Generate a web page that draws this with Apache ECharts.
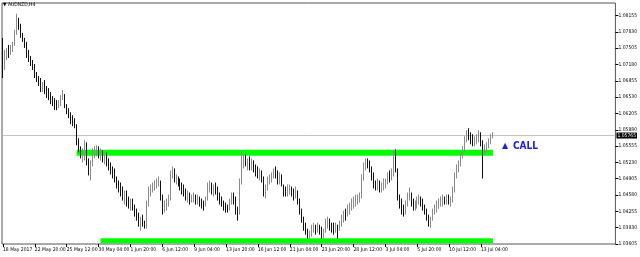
<!DOCTYPE html>
<html><head><meta charset="utf-8">
<script src="https://cdn.jsdelivr.net/npm/echarts@6/dist/echarts.min.js"></script>
<style>html,body{margin:0;padding:0;background:#fff}#c{width:640px;height:257px}</style>
</head><body><div id="c"></div><script>
const chartTitle = '\u25BC AUDNZD,H4';
const signalText = 'CALL';
const xTickLabels = ['18 May 2017','22 May 20:00','25 May 12:00','30 May 04:00','1 Jun 20:00','6 Jun 12:00','9 Jun 04:00','13 Jun 20:00','16 Jun 12:00','21 Jun 04:00','23 Jun 20:00','28 Jun 12:00','3 Jul 04:00','5 Jul 20:00','10 Jul 12:00','13 Jul 04:00'];
const yTickValues = [1.03605,1.03930,1.04255,1.04580,1.04905,1.05230,1.05555,1.05880,1.06205,1.06530,1.06855,1.07180,1.07505,1.07830,1.08155];
const priceMin = 1.03605, priceMax = 1.08404;
const barsPerTick = 16;
const slotCount = 308;

const closes = [
1.0707,1.0737,1.0747,1.0743,1.0751,1.0757,1.0781,1.0807,1.0793,1.0777,
1.0767,1.0757,1.0737,1.0731,1.0723,1.0715,1.0697,1.0691,1.0683,1.0671,
1.0675,1.0667,1.0657,1.0655,1.0647,1.0643,1.0637,1.0635,1.0639,1.0651,
1.0659,1.0635,1.0623,1.0619,1.0611,1.0607,1.0599,1.0567,1.0547,1.0539,
1.0543,1.0557,1.0523,1.0511,1.0517,1.0543,1.0547,1.0551,1.0537,1.0543,
1.0531,1.0535,1.0523,1.0515,1.0507,1.0503,1.0487,1.0479,1.0475,1.0467,
1.0455,1.0459,1.0447,1.0439,1.0443,1.0435,1.0423,1.0415,1.0403,1.0407,
1.0399,1.0395,1.0437,1.0467,1.0471,1.0475,1.0479,1.0483,1.0487,1.0451,
1.0431,1.0439,1.0443,1.0451,1.0497,1.0507,1.0491,1.0491,1.0483,1.0475,
1.0471,1.0463,1.0455,1.0457,1.0451,1.0453,1.0455,1.0447,1.0451,1.0443,
1.0439,1.0435,1.0451,1.0475,1.0475,1.0467,1.0471,1.0463,1.0455,1.0447,
1.0439,1.0435,1.0431,1.0427,1.0443,1.0455,1.0447,1.0431,1.0423,1.0483,
1.0527,1.0531,1.0519,1.0523,1.0515,1.0519,1.0511,1.0503,1.0499,1.0503,
1.0491,1.0463,1.0471,1.0487,1.0491,1.0495,1.0503,1.0499,1.0487,1.0495,
1.0479,1.0467,1.0463,1.0467,1.0471,1.0459,1.0455,1.0463,1.0447,1.0427,
1.0411,1.0395,1.0387,1.0379,1.0383,1.0391,1.0395,1.0387,1.0395,1.0391,
1.0379,1.0383,1.0403,1.0407,1.0395,1.0391,1.0387,1.0395,1.0391,1.0399,
1.0411,1.0419,1.0415,1.0427,1.0435,1.0439,1.0447,1.0451,1.0455,1.0459,
1.0491,1.0515,1.0523,1.0519,1.0511,1.0495,1.0479,1.0475,1.0483,1.0471,
1.0479,1.0483,1.0487,1.0495,1.0491,1.0503,1.0531,1.0507,1.0455,1.0439,
1.0427,1.0423,1.0439,1.0455,1.0459,1.0443,1.0435,1.0439,1.0447,1.0451,
1.0443,1.0435,1.0427,1.0415,1.0403,1.0411,1.0423,1.0431,1.0439,1.0443,
1.0447,1.0451,1.0447,1.0451,1.0443,1.0447,1.0467,1.0495,1.0511,1.0519,
1.0535,1.0547,1.0567,1.0579,1.0575,1.0567,1.0563,1.0567,1.0571,1.0575,
1.0559,1.0547,1.0551,1.0555,1.0567,1.0575,1.05765];

const opens = [
1.0767,1.0707,1.0737,1.0747,1.0743,1.0751,1.0757,1.0781,1.0807,1.0793,
1.0777,1.0767,1.0757,1.0737,1.0731,1.0723,1.0715,1.0697,1.0691,1.0683,
1.0671,1.0675,1.0667,1.0657,1.0655,1.0647,1.0643,1.0637,1.0635,1.0639,
1.0651,1.0659,1.0635,1.0623,1.0619,1.0611,1.0607,1.0599,1.0567,1.0547,
1.0539,1.0543,1.0557,1.0523,1.0511,1.0517,1.0543,1.0547,1.0551,1.0537,
1.0543,1.0531,1.0535,1.0523,1.0515,1.0507,1.0503,1.0487,1.0479,1.0475,
1.0467,1.0455,1.0459,1.0447,1.0439,1.0443,1.0435,1.0423,1.0415,1.0403,
1.0407,1.0399,1.0395,1.0437,1.0467,1.0471,1.0475,1.0479,1.0483,1.0487,
1.0451,1.0431,1.0439,1.0443,1.0451,1.0497,1.0507,1.0491,1.0491,1.0483,
1.0475,1.0471,1.0463,1.0455,1.0457,1.0451,1.0453,1.0455,1.0447,1.0451,
1.0443,1.0439,1.0435,1.0451,1.0475,1.0475,1.0467,1.0471,1.0463,1.0455,
1.0447,1.0439,1.0435,1.0431,1.0427,1.0443,1.0455,1.0447,1.0431,1.0423,
1.0483,1.0527,1.0531,1.0519,1.0523,1.0515,1.0519,1.0511,1.0503,1.0499,
1.0503,1.0491,1.0463,1.0471,1.0487,1.0491,1.0495,1.0503,1.0499,1.0487,
1.0495,1.0479,1.0467,1.0463,1.0467,1.0471,1.0459,1.0455,1.0463,1.0447,
1.0427,1.0411,1.0395,1.0387,1.0379,1.0383,1.0391,1.0395,1.0387,1.0395,
1.0391,1.0379,1.0383,1.0403,1.0407,1.0395,1.0391,1.0387,1.0395,1.0391,
1.0399,1.0411,1.0419,1.0415,1.0427,1.0435,1.0439,1.0447,1.0451,1.0455,
1.0459,1.0491,1.0515,1.0523,1.0519,1.0511,1.0495,1.0479,1.0475,1.0483,
1.0471,1.0479,1.0483,1.0487,1.0495,1.0491,1.0503,1.0531,1.0507,1.0455,
1.0439,1.0427,1.0423,1.0439,1.0455,1.0459,1.0443,1.0435,1.0439,1.0447,
1.0451,1.0443,1.0435,1.0427,1.0415,1.0403,1.0411,1.0423,1.0431,1.0439,
1.0443,1.0447,1.0451,1.0447,1.0451,1.0443,1.0447,1.0467,1.0495,1.0511,
1.0519,1.0535,1.0547,1.0567,1.0579,1.0575,1.0567,1.0563,1.0567,1.0571,
1.0575,1.0559,1.0547,1.0551,1.0555,1.0567,1.0575];

const highs = [
1.0771,1.0747,1.0751,1.0757,1.0757,1.0763,1.0787,1.0819,1.0811,1.0799,
1.0781,1.0771,1.0763,1.0747,1.0735,1.0727,1.0719,1.0703,1.0695,1.0691,
1.0683,1.0687,1.0675,1.0671,1.0663,1.0655,1.0651,1.0647,1.0647,1.0657,
1.0667,1.0659,1.0639,1.0631,1.0623,1.0617,1.0611,1.0599,1.0571,1.0555,
1.0551,1.0567,1.0563,1.0531,1.0527,1.0551,1.0555,1.0557,1.0555,1.0551,
1.0547,1.0539,1.0543,1.0531,1.0523,1.0515,1.0511,1.0495,1.0487,1.0483,
1.0475,1.0467,1.0467,1.0455,1.0451,1.0451,1.0439,1.0431,1.0423,1.0415,
1.0419,1.0407,1.0447,1.0475,1.0479,1.0483,1.0487,1.0491,1.0495,1.0487,
1.0459,1.0447,1.0451,1.0459,1.0507,1.0515,1.0511,1.0499,1.0495,1.0491,
1.0483,1.0479,1.0471,1.0467,1.0463,1.0459,1.0463,1.0459,1.0459,1.0455,
1.0451,1.0447,1.0455,1.0483,1.0487,1.0483,1.0479,1.0483,1.0475,1.0463,
1.0455,1.0447,1.0443,1.0439,1.0451,1.0463,1.0463,1.0455,1.0435,1.0491,
1.0547,1.0539,1.0539,1.0531,1.0535,1.0531,1.0527,1.0519,1.0515,1.0511,
1.0507,1.0495,1.0479,1.0495,1.0499,1.0503,1.0511,1.0515,1.0507,1.0503,
1.0499,1.0479,1.0475,1.0479,1.0479,1.0475,1.0471,1.0475,1.0467,1.0451,
1.0431,1.0415,1.0403,1.0391,1.0387,1.0399,1.0403,1.0399,1.0403,1.0399,
1.0395,1.0391,1.0411,1.0415,1.0411,1.0403,1.0403,1.0403,1.0399,1.0407,
1.0419,1.0427,1.0431,1.0439,1.0443,1.0451,1.0455,1.0459,1.0459,1.0463,
1.0499,1.0523,1.0531,1.0531,1.0527,1.0515,1.0503,1.0487,1.0491,1.0487,
1.0483,1.0491,1.0491,1.0503,1.0507,1.0511,1.0547,1.0549,1.0511,1.0459,
1.0451,1.0439,1.0447,1.0463,1.0473,1.0463,1.0451,1.0447,1.0455,1.0459,
1.0455,1.0451,1.0439,1.0431,1.0419,1.0415,1.0431,1.0439,1.0447,1.0451,
1.0455,1.0459,1.0455,1.0459,1.0459,1.0455,1.0475,1.0503,1.0519,1.0527,
1.0543,1.0555,1.0575,1.0587,1.0591,1.0583,1.0579,1.0575,1.0579,1.0587,
1.0583,1.0567,1.0559,1.0563,1.0571,1.0579,1.0583];

const lows = [
1.0691,1.0707,1.0727,1.0731,1.0737,1.0743,1.0755,1.0777,1.0787,1.0771,
1.0763,1.0751,1.0731,1.0723,1.0715,1.0707,1.0691,1.0683,1.0675,1.0663,
1.0663,1.0659,1.0651,1.0647,1.0639,1.0635,1.0627,1.0627,1.0631,1.0635,
1.0647,1.0631,1.0619,1.0611,1.0599,1.0595,1.0591,1.0557,1.0543,1.0531,
1.0523,1.0527,1.0517,1.0497,1.0487,1.0515,1.0531,1.0535,1.0531,1.0527,
1.0523,1.0519,1.0515,1.0507,1.0499,1.0491,1.0483,1.0471,1.0463,1.0455,
1.0447,1.0439,1.0435,1.0431,1.0427,1.0427,1.0415,1.0407,1.0395,1.0387,
1.0395,1.0391,1.0391,1.0435,1.0455,1.0463,1.0467,1.0471,1.0475,1.0447,
1.0419,1.0423,1.0427,1.0435,1.0447,1.0491,1.0483,1.0479,1.0475,1.0467,
1.0459,1.0455,1.0447,1.0443,1.0439,1.0443,1.0443,1.0439,1.0439,1.0435,
1.0431,1.0427,1.0435,1.0447,1.0463,1.0459,1.0455,1.0459,1.0447,1.0439,
1.0435,1.0427,1.0423,1.0423,1.0427,1.0439,1.0439,1.0419,1.0407,1.0419,
1.0479,1.0511,1.0515,1.0507,1.0507,1.0507,1.0503,1.0495,1.0491,1.0487,
1.0483,1.0455,1.0451,1.0467,1.0479,1.0483,1.0491,1.0491,1.0479,1.0479,
1.0475,1.0455,1.0455,1.0455,1.0459,1.0455,1.0447,1.0451,1.0439,1.0419,
1.0403,1.0387,1.0379,1.0371,1.0371,1.0375,1.0383,1.0379,1.0383,1.0379,
1.0371,1.0371,1.0383,1.0391,1.0387,1.0383,1.0379,1.0383,1.0371,1.0387,
1.0395,1.0403,1.0407,1.0415,1.0419,1.0427,1.0431,1.0435,1.0439,1.0443,
1.0451,1.0487,1.0507,1.0511,1.0503,1.0487,1.0471,1.0467,1.0467,1.0463,
1.0463,1.0467,1.0471,1.0479,1.0483,1.0487,1.0495,1.0503,1.0447,1.0431,
1.0419,1.0415,1.0419,1.0435,1.0447,1.0435,1.0427,1.0427,1.0431,1.0439,
1.0435,1.0427,1.0419,1.0407,1.0395,1.0393,1.0407,1.0419,1.0423,1.0431,
1.0435,1.0435,1.0439,1.0439,1.0439,1.0435,1.0443,1.0463,1.0491,1.0503,
1.0515,1.0531,1.0543,1.0563,1.0567,1.0559,1.0555,1.0555,1.0559,1.0563,
1.0555,1.0491,1.0539,1.0543,1.0551,1.0559,1.0571];

const levelPrices = [1.05421, 1.03669];
const levelStartBar = [37, 49];
const levelEndBar = [246, 246];
const currentPrice = 1.05765;

const FONT = "'Liberation Sans Narrow','DejaVu Sans Condensed','Liberation Sans',sans-serif";
const categories = Array.from({length: slotCount}, (_, i) => String(i));
const ohlc = closes.map((c, i) => [opens[i], c, lows[i], highs[i]]);
const lastTickIdx = (xTickLabels.length - 1) * barsPerTick;
const isTick = (i) => i % barsPerTick === 0 && i <= lastTickIdx;

const chart = echarts.init(document.getElementById('c'), null, {renderer: 'canvas'});
const levelSeries = levelPrices.map((p, k) => ({
  type: 'line', z: 1, silent: true, symbol: 'none', animation: false,
  data: [[levelStartBar[k], p], [levelEndBar[k], p]],
  lineStyle: {color: '#00ff00', width: k === 0 ? 6 : 5, cap: 'butt'}
}));
const priceLineSeries = {
  type: 'line', z: 0, silent: true, symbol: 'none', animation: false,
  data: [[0, currentPrice], [slotCount - 1, currentPrice]],
  lineStyle: {color: '#c4c4c4', width: 1, type: 'solid'},
  endLabel: {show: true, formatter: () => currentPrice.toFixed(5), color: '#fff', backgroundColor: '#000',
    fontSize: 5, padding: [1, 1, 0, 1], distance: 2, fontFamily: FONT}
};
chart.setOption({
  animation: false,
  backgroundColor: '#ffffff',
  textStyle: {fontFamily: FONT},
  grid: {left: 0, right: 24, top: 3, bottom: 13, show: true, borderColor: '#555', borderWidth: 1, backgroundColor: 'transparent'},
  xAxis: {
    type: 'category', data: categories, boundaryGap: true,
    axisLine: {show: false},
    axisTick: {show: true, alignWithLabel: true, interval: (i) => isTick(i), length: 3, lineStyle: {color: '#000'}},
    axisLabel: {interval: (i) => isTick(i), formatter: (v, i) => xTickLabels[i / barsPerTick] || '',
      align: 'left', fontSize: 5, color: '#000', margin: 3, fontFamily: FONT},
    splitLine: {show: false}
  },
  yAxis: {
    type: 'value', position: 'right', min: priceMin, max: priceMax, scale: true,
    axisLine: {show: false},
    axisTick: {show: true, length: 3, lineStyle: {color: '#000'}, customValues: yTickValues},
    axisLabel: {fontSize: 5, color: '#000', margin: 3, fontFamily: FONT, customValues: yTickValues,
      formatter: (v) => v.toFixed(5)},
    splitLine: {show: false}
  },
  graphic: [
    {type: 'text', left: 3, top: 2, style: {text: chartTitle, fontSize: 5, fill: '#000', fontFamily: FONT}},
    {type: 'text', x: 502, y: 146, style: {text: '\u25B2', fontSize: 8, fill: '#1c1cf0', textVerticalAlign: 'middle', fontFamily: 'DejaVu Sans'}},
    {type: 'text', x: 513, y: 146, style: {text: signalText, fontSize: 10, fontWeight: 'bold', fill: '#1c1cf0', textVerticalAlign: 'middle', fontFamily: FONT}}
  ],
  series: [priceLineSeries].concat(levelSeries, [{
    type: 'candlestick', z: 3, data: ohlc, barWidth: 1,
    itemStyle: {color: '#8a8a8a', color0: '#111', borderColor: '#8a8a8a', borderColor0: '#111', borderWidth: 1}
  }])
});
</script></body></html>
